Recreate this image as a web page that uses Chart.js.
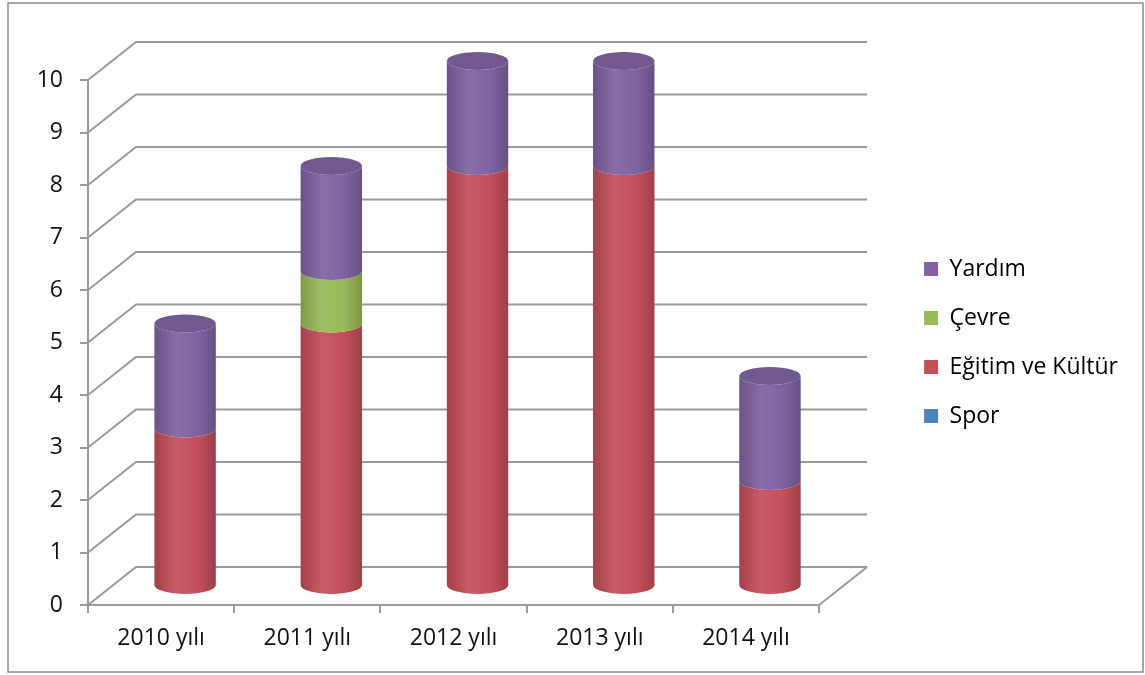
<!DOCTYPE html>
<html lang="tr">

<head>
    <meta charset="UTF-8">
    <title>Yıllara göre etkinlikler</title>
    <script src="https://cdn.jsdelivr.net/npm/chart.js"></script>
    <style>
        html, body {
            margin: 0;
            padding: 0;
            background: #fff;
        }

        #wrap {
            width: 1145px;
            height: 675px;
        }
    </style>
</head>

<body>
    <div id="wrap">
        <canvas id="myChart" width="1145" height="675"></canvas>
    </div>

    <script>
        // Chart data
        const years = ['2010 yılı', '2011 yılı', '2012 yılı', '2013 yılı', '2014 yılı'];
        const spor = [0, 0, 0, 0, 0];
        const egitim = [3, 5, 8, 8, 2];
        const cevre = [0, 1, 0, 0, 0];
        const yardim = [2, 2, 2, 2, 2];
        const yTicks = [0, 1, 2, 3, 4, 5, 6, 7, 8, 9, 10];

        // colours (Office 2007 palette)
        const colSpor = '#4F81BD';
        const colEgitim = '#C4505A';
        const colCevre = '#9BBB59';
        const colYardim = '#8064A2';

        // 3D depth of the back wall
        const DX = 48;
        const DY = -38;
        const RY = 9;
        const gridColor = '#9a9a9a';
        const fontName = "'Open Sans', 'Noto Sans', sans-serif";

        function shade(hex, f) {
            const n = parseInt(hex.slice(1), 16);
            let r = (n >> 16) & 255, g = (n >> 8) & 255, b = n & 255;
            if (f < 0) {
                r = r * (1 + f); g = g * (1 + f); b = b * (1 + f);
            } else {
                r = r + (255 - r) * f; g = g + (255 - g) * f; b = b + (255 - b) * f;
            }
            return 'rgb(' + Math.round(r) + ',' + Math.round(g) + ',' + Math.round(b) + ')';
        }

        // frame + 3D back wall grid
        const wallPlugin = {
            id: 'wall',
            beforeDraw(chart) {
                const ctx = chart.ctx;
                ctx.save();
                ctx.strokeStyle = '#8a8a8a';
                ctx.lineWidth = 1.5;
                ctx.strokeRect(8, 3, 1135, 669);
                ctx.restore();
            },
            beforeDatasetsDraw(chart) {
                const ctx = chart.ctx;
                const area = chart.chartArea;
                const y = chart.scales.y;
                ctx.save();
                ctx.strokeStyle = gridColor;
                ctx.lineWidth = 2;
                ctx.beginPath();
                yTicks.forEach((v) => {
                    const py = y.getPixelForValue(v);
                    ctx.moveTo(area.left, py);
                    ctx.lineTo(area.left + DX, py + DY);
                    ctx.lineTo(area.right + DX, py + DY);
                });
                // right edge of the floor
                const p0 = y.getPixelForValue(0);
                ctx.moveTo(area.right, p0);
                ctx.lineTo(area.right + DX, p0 + DY);
                ctx.stroke();
                ctx.restore();
            }
        };

        // draws the stacked bars as cylinders at half depth
        const cylinderPlugin = {
            id: 'cylinders',
            afterDatasetsDraw(chart) {
                const ctx = chart.ctx;
                const n = chart.data.labels.length;
                const sets = chart.data.datasets;
                for (let j = 0; j < n; j++) {
                    let lastTop = null;
                    for (let i = 0; i < sets.length; i++) {
                        const el = chart.getDatasetMeta(i).data[j];
                        if (!el || sets[i].data[j] === 0) continue;
                        const cx = el.x + DX / 2;
                        const rx = el.width / 2;
                        const top = el.y + DY / 2;
                        const bot = el.base + DY / 2;
                        const c = sets[i].cylColor;
                        const grad = ctx.createLinearGradient(cx - rx, 0, cx + rx, 0);
                        grad.addColorStop(0, shade(c, -0.18));
                        grad.addColorStop(0.35, shade(c, 0.06));
                        grad.addColorStop(0.7, c);
                        grad.addColorStop(1, shade(c, -0.2));
                        ctx.save();
                        ctx.fillStyle = grad;
                        ctx.beginPath();
                        ctx.moveTo(cx - rx, top);
                        ctx.lineTo(cx - rx, bot);
                        ctx.ellipse(cx, bot, rx, RY, 0, Math.PI, 0, true);
                        ctx.lineTo(cx + rx, top);
                        ctx.ellipse(cx, top, rx, RY, 0, 0, Math.PI, false);
                        ctx.closePath();
                        ctx.fill();
                        ctx.restore();
                        lastTop = {cx: cx, rx: rx, top: top, c: c};
                    }
                    if (lastTop) {
                        ctx.save();
                        ctx.fillStyle = shade(lastTop.c, -0.12);
                        ctx.beginPath();
                        ctx.ellipse(lastTop.cx, lastTop.top, lastTop.rx, RY, 0, 0, Math.PI * 2);
                        ctx.fill();
                        ctx.restore();
                    }
                }
            }
        };

        const ctx = document.getElementById('myChart');
        const myChart = new Chart(ctx, {
            type: 'bar',
            data: {
                labels: years,
                datasets: [
                    { label: 'Spor', data: spor, cylColor: colSpor },
                    { label: 'Eğitim ve Kültür', data: egitim, cylColor: colEgitim },
                    { label: 'Çevre', data: cevre, cylColor: colCevre },
                    { label: 'Yardım', data: yardim, cylColor: colYardim }
                ].map((d) => Object.assign(d, {
                    borderWidth: 0,
                    categoryPercentage: 1,
                    barPercentage: 0.42,
                    // the bars themselves are painted by the cylinder plugin
                    backgroundColor: 'rgba(0,0,0,0)'
                }))
            },
            options: {
                responsive: false,
                animation: false,
                events: [],
                layout: {
                    padding: { left: 8, top: 80, right: 17, bottom: 10 }
                },
                scales: {
                    x: {
                        stacked: true,
                        offset: true,
                        border: { display: true, color: gridColor, width: 2 },
                        grid: {
                            offset: true,
                            drawOnChartArea: false,
                            drawTicks: true,
                            tickLength: 8,
                            color: gridColor,
                            lineWidth: 2
                        },
                        ticks: {
                            color: '#111',
                            padding: 12,
                            maxRotation: 0,
                            font: { family: fontName, size: 23 }
                        },
                        afterFit(s) { s.height = 60; }
                    },
                    y: {
                        stacked: true,
                        min: 0,
                        max: 10,
                        border: { display: true, color: gridColor, width: 2 },
                        grid: {
                            drawOnChartArea: false,
                            drawTicks: true,
                            tickLength: 8,
                            color: gridColor,
                            lineWidth: 2
                        },
                        ticks: {
                            stepSize: 1,
                            color: '#111',
                            padding: 17,
                            font: { family: fontName, size: 23 }
                        },
                        afterFit(s) { s.width = 80; }
                    },
                    // empty spacer so the legend sits to the right of the back wall
                    gap: {
                        position: 'right',
                        display: true,
                        grid: { display: false },
                        border: { display: false },
                        ticks: { display: false },
                        afterFit(s) { s.width = 79; }
                    }
                },
                plugins: {
                    legend: {
                        position: 'right',
                        fullSize: false,
                        reverse: true,
                        maxWidth: 260,
                        labels: {
                            boxWidth: 14,
                            boxHeight: 14,
                            padding: 26,
                            color: '#111',
                            font: { family: fontName, size: 23 },
                            generateLabels(chart) {
                                return chart.data.datasets.map((d, i) => ({
                                    text: d.label,
                                    fillStyle: d.cylColor,
                                    strokeStyle: d.cylColor,
                                    lineWidth: 0,
                                    hidden: false,
                                    datasetIndex: i
                                }));
                            }
                        }
                    },
                    tooltip: { enabled: false }
                }
            },
            plugins: [wallPlugin, cylinderPlugin]
        });
    </script>
</body>

</html>
